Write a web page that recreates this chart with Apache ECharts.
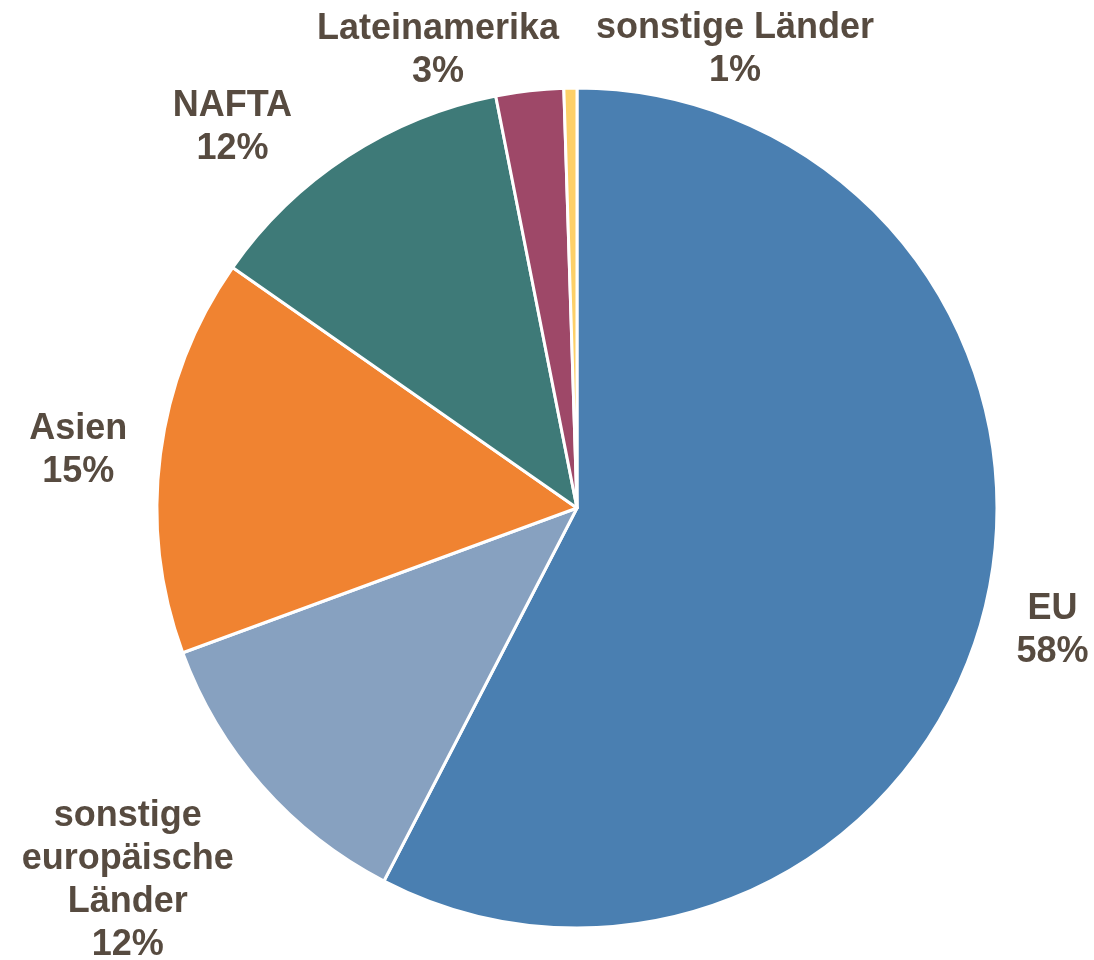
<!DOCTYPE html>
<html>
<head>
<meta charset="utf-8">
<script src="https://cdn.jsdelivr.net/npm/echarts@6/dist/echarts.min.js"></script>
<style>html,body{margin:0;padding:0;background:#fff}#c{width:1094px;height:960px}</style>
</head>
<body>
<div id="c"></div>
<script>
const categories = ['EU', 'sonstige\neuropäische\nLänder', 'Asien', 'NAFTA', 'Lateinamerika', 'sonstige Länder'];
const values = [57.6, 11.8, 15.3, 12.2, 2.6, 0.5];
const percentLabels = ['58%', '12%', '15%', '12%', '3%', '1%'];
const colors = ['#4a7fb1', '#87a1c0', '#f08331', '#3e7a78', '#9e4868', '#fdd068'];

const CX = 577, CY = 508, R = 420;
// label placement: [distance from centre, direction in degrees clockwise from top]
const labelPlace = [[491, 104.4], [584, 230.3], [502, 276.6], [513, 317.8], [478, 343.1], [485, 19.0]];

const chart = echarts.init(document.getElementById('c'));
chart.setOption({
  animation: false,
  color: colors,
  series: [{
    type: 'pie',
    center: [CX, CY],
    radius: R,
    startAngle: 90,
    clockwise: true,
    itemStyle: { borderColor: '#ffffff', borderWidth: 3 },
    label: {
      show: true,
      position: 'outside',
      color: '#574b40',
      fontFamily: 'Liberation Sans, Arial, sans-serif',
      fontWeight: 'bold',
      fontSize: 36,
      lineHeight: 43,
      overflow: 'none',
      formatter: p => p.name + '\n' + percentLabels[p.dataIndex]
    },
    labelLine: { show: false },
    labelLayout: function (params) {
      const pl = labelPlace[params.dataIndex];
      const a = pl[1] * Math.PI / 180;
      return {
        x: CX + pl[0] * Math.sin(a),
        y: CY - pl[0] * Math.cos(a),
        align: 'center',
        verticalAlign: 'middle',
        width: 400
      };
    },
    data: categories.map((n, i) => ({ name: n, value: values[i] }))
  }]
});
</script>
</body>
</html>
